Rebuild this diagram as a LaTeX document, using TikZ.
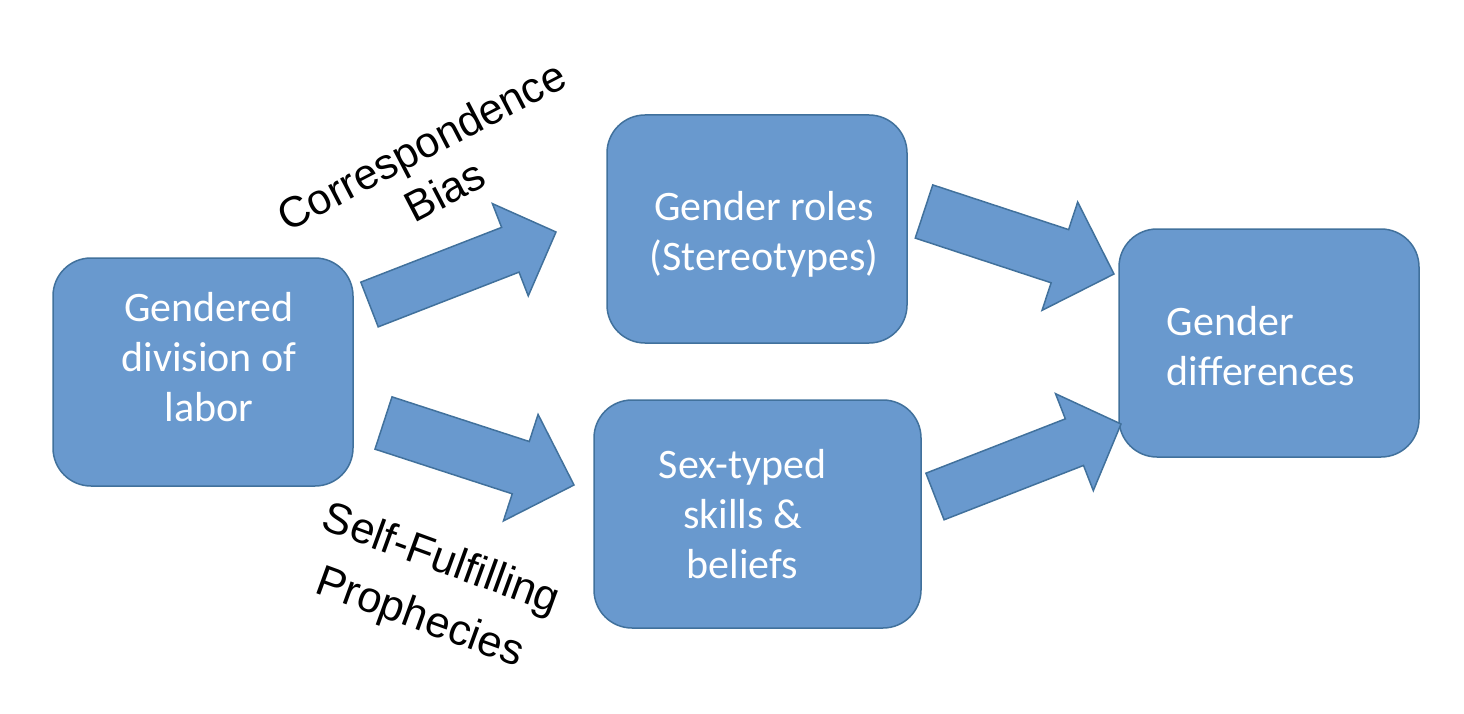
\documentclass[tikz,border=0pt]{standalone}
\usepackage{fontspec}
\setmainfont{Carlito}
\newfontfamily\labelfont{Liberation Sans}
\usepackage{tikz}
\usetikzlibrary{calc}
\definecolor{boxblue}{RGB}{105,153,206}
\definecolor{boxline}{RGB}{65,113,156}

% block arrow: tail, tip, half shaft, half head, head length
\newcommand{\fatarrow}[5]{%
  \coordinate (neck) at ($(#2)!#5!(#1)$);
  \draw[fat] ($(#1)!#3!90:(#2)$) -- ($(neck)!#3!-90:(#1)$) -- ($(neck)!#4!-90:(#1)$)
    -- (#2) -- ($(neck)!#4!90:(#1)$) -- ($(neck)!#3!90:(#1)$) -- ($(#1)!#3!-90:(#2)$) -- cycle;}

\begin{document}
\begin{tikzpicture}[x=1pt, y=-1pt,
    box/.style={draw=boxline, line width=1.5pt, fill=boxblue, rounded corners=38pt,
      minimum width=300pt, minimum height=228pt},
    boxtext/.style={text=white, align=center, font=\fontsize{42}{50}\selectfont},
    fat/.style={draw=boxline, line width=1.5pt, fill=boxblue, line join=miter},
    tag/.style={align=center, font=\labelfont\fontsize{43}{51}\selectfont}]
  \useasboundingbox (0,0) rectangle (1464,714);

  \node[box] (labor) at (203,372) {};
  \node[box] (roles) at (757,229) {};
  \node[box, minimum width=327pt] (skills) at (757.5,514) {};
  \node[box] (diffs) at (1269,343) {};

  \node[boxtext] (laborT) at ($(labor)+(6,-15)$) {Gendered\\division of\\labor};
  \node[boxtext] (rolesT) at ($(roles)+(7,5)$) {Gender roles\\(Stereotypes)};
  \node[boxtext] (skillsT) at ($(skills)+(-15,0)$) {Sex-typed\\skills \&\\beliefs};
  \node[boxtext, align=left] (diffsT) at ($(diffs)+(-8,3)$) {Gender\\differences};

  \coordinate (biasS) at (369.5,304.5);
  \coordinate (biasE) at (556,232);
  \coordinate (propS) at (383.5,423);
  \coordinate (propE) at (574,485);
  \coordinate (rolesS) at (924,211.5);
  \coordinate (rolesE) at (1114,274);
  \coordinate (skillsS) at (935,496.5);
  \coordinate (skillsE) at (1121,424);

  \fatarrow{biasS}{biasE}{24pt}{49.5pt}{49pt}
  \fatarrow{propS}{propE}{27.5pt}{56pt}{56pt}
  \fatarrow{rolesS}{rolesE}{28pt}{57pt}{57pt}
  \fatarrow{skillsS}{skillsE}{25pt}{52pt}{50pt}

  \node[tag, rotate=27.5] (bias) at (433,168) {Correspondence\\Bias};
  \node[tag, rotate=-20, font=\labelfont\fontsize{43.5}{62}\selectfont] (prophecy) at (430,590) {Self-Fulfilling\\Prophecies};
\end{tikzpicture}
\end{document}
